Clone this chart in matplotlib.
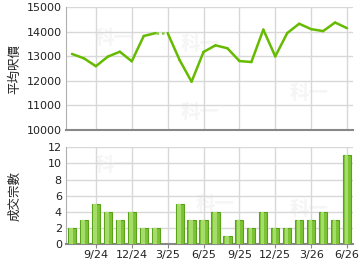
import matplotlib
matplotlib.use("Agg")
import matplotlib.pyplot as plt
import numpy as np

plt.rcParams['font.family'] = ['DejaVu Sans', 'Noto Sans CJK TC']

months = ['7/24', '8/24', '9/24', '10/24', '11/24', '12/24', '1/25', '2/25', '3/25',
          '4/25', '5/25', '6/25', '7/25', '8/25', '9/25', '10/25', '11/25', '12/25',
          '1/26', '2/26', '3/26', '4/26', '5/26', '6/26']
avg_price = [13100, 12920, 12600, 12990, 13190, 12800, 13830, 13950, 13950,
             12850, 11970, 13180, 13450, 13330, 12810, 12770, 14090, 13000,
             13950, 14330, 14110, 14030, 14380, 14150]
volume = [2, 3, 5, 4, 3, 4, 2, 2, 0, 5, 3, 3, 4, 1, 3, 2, 4, 2, 2, 3, 3, 4, 3, 11]
tick_labels = ['9/24', '12/24', '3/25', '6/25', '9/25', '12/25', '3/26', '6/26']
price_ticks = [10000, 11000, 12000, 13000, 14000, 15000]
vol_ticks = [0, 2, 4, 6, 8, 10, 12]

x = np.arange(len(months))
tick_pos = [months.index(t) for t in tick_labels]

fig = plt.figure(figsize=(3.6, 2.7), dpi=100)
ax1 = fig.add_axes([66/360, 1-130/270, 287/360, 122.7/270])
ax2 = fig.add_axes([66/360, 1-244/270, 287/360, 96.7/270])

grid_c = '#d8d8d8'
for ax in (ax1, ax2):
    ax.set_xlim(-0.5, len(months) - 0.5)
    ax.set_xticks(tick_pos)
    ax.grid(True, color=grid_c, linewidth=1.0)
    ax.set_axisbelow(True)
    ax.spines['top'].set_visible(False)
    ax.spines['right'].set_visible(False)
    ax.spines['left'].set_color('#b0b0b0')
    ax.spines['bottom'].set_color('#888888')
    ax.spines['bottom'].set_linewidth(1.5)
    ax.tick_params(axis='y', length=0, labelsize=8, colors='#222222', pad=3)
    ax.tick_params(axis='x', length=3, color='#888888', labelsize=8, colors='#222222', pad=1)

# faint watermarks
wm = dict(fontsize=14, color='#f5f5f5', family=['Noto Sans CJK TC'], weight='bold', zorder=0)
ax1.text(0.1, 0.7, '科一', transform=ax1.transAxes, **wm)
ax1.text(0.78, 0.25, '科一', transform=ax1.transAxes, **wm)
ax1.text(0.4, 0.1, '科一', transform=ax1.transAxes, **wm)
ax1.text(0.4, 0.65, '科一', transform=ax1.transAxes, **wm)
ax2.text(0.1, 0.75, '科一', transform=ax2.transAxes, **wm)
ax2.text(0.45, 0.35, '科一', transform=ax2.transAxes, **wm)
ax2.text(0.78, 0.3, '科一', transform=ax2.transAxes, **wm)

# price line: dotted where the month had no transactions
line_c = '#66bb00'
n = len(x)
for i in range(n - 1):
    dotted = volume[i + 1] == 0
    ax1.plot(x[i:i+2], avg_price[i:i+2], color='#88cc44' if dotted else line_c,
             linewidth=1.8, linestyle=(0, (1, 1.2)) if dotted else '-',
             solid_capstyle='round', zorder=3)
ax1.set_ylim(10000, 15000)
ax1.set_yticks(price_ticks)
ax1.set_xticklabels([])
ax1.tick_params(axis='x', length=0)
ax1.set_ylabel('平均呎價', family=['Noto Sans CJK TC'], fontsize=9, color='#222222')
ax1.yaxis.set_label_coords(-0.155, 0.5)

# volume bars
edges = ['#5aa318' if v > 0 else 'none' for v in volume]
ax2.bar(x, volume, width=0.68, color='#7cc436', edgecolor=edges, linewidth=0.8, zorder=3)
ax2.bar(x - 0.06, volume, width=0.3, color='#a6dc6c', linewidth=0, zorder=4)
ax2.set_ylim(0, 12)
ax2.set_yticks(vol_ticks)
ax2.set_xticklabels(tick_labels)
ax2.set_ylabel('成交宗數', family=['Noto Sans CJK TC'], fontsize=9, color='#222222')
ax2.yaxis.set_label_coords(-0.155, 0.5)

fig.savefig('out.png', dpi=100)
